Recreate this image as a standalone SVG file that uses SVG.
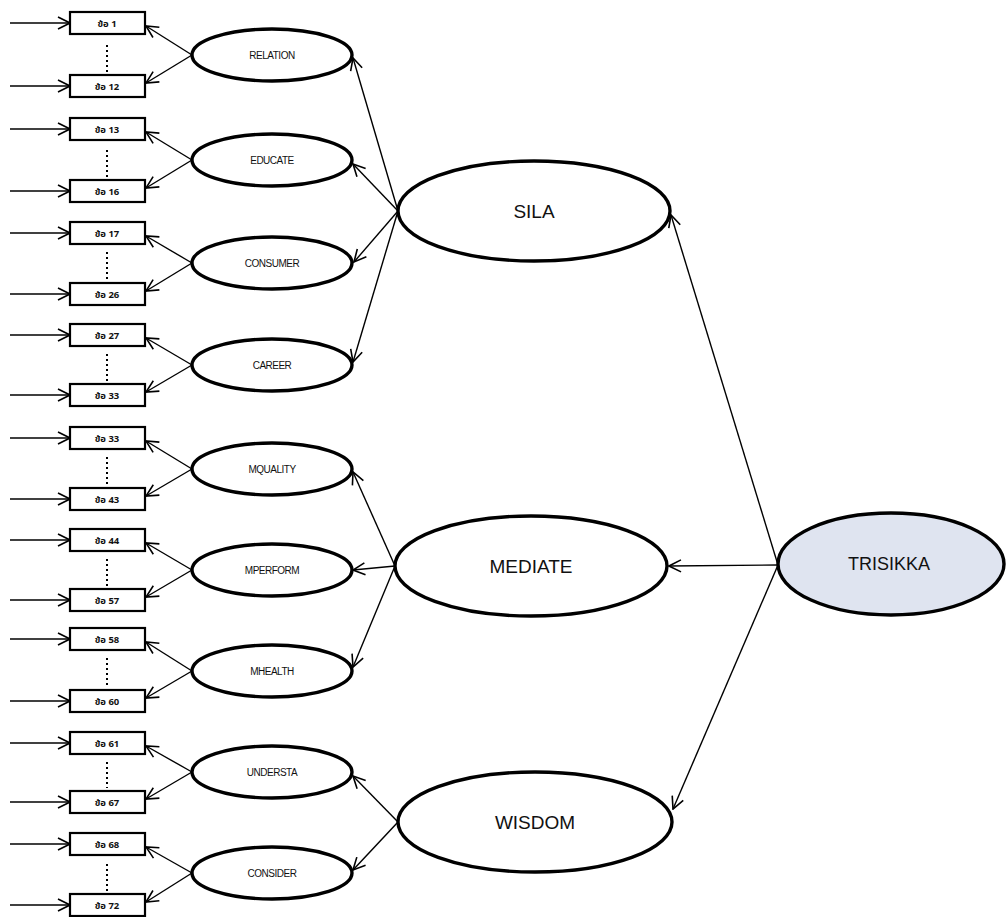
<svg xmlns="http://www.w3.org/2000/svg" width="1006" height="917" viewBox="0 0 1006 917">
  <style>
    .item rect { fill: #fff; stroke: #000; stroke-width: 2.2; }
    .item text { font-family: "Noto Sans Thai", "Liberation Sans", "DejaVu Sans", sans-serif; font-size: 9.5px; font-weight: bold; text-anchor: middle; fill: #111; }
    .dots { stroke: #000; stroke-width: 2; stroke-dasharray: 2 3; fill: none; }
    .sub ellipse { fill: #fff; stroke: #000; stroke-width: 3.4; }
    .sub text { font-family: "Liberation Sans", Arial, sans-serif; font-size: 10px; text-anchor: middle; fill: #111; letter-spacing: -0.5px; }
    .main ellipse { fill: #fff; stroke: #000; stroke-width: 3.4; }
    .main text { font-family: "Liberation Sans", Arial, sans-serif; font-size: 19px; text-anchor: middle; fill: #111; }
    #TRISIKKA ellipse { fill: #dfe4f0; }
    #TRISIKKA text { font-size: 18px; }
    .edges line { stroke: #000; stroke-width: 1.4; fill: none; marker-end: url(#arrow); }
  </style>
  <defs>
    <marker id="arrow" viewBox="0 0 14 14" refX="13" refY="7" markerWidth="14" markerHeight="14" markerUnits="userSpaceOnUse" orient="auto">
      <path d="M1,1 L13,7 L1,13" fill="none" stroke="#000" stroke-width="1.6"/>
    </marker>
  </defs>

  <rect width="1006" height="917" fill="#fff"/>

  <!-- connectors -->
  <g id="connectors" class="edges">
    <!-- error arrows into each item -->
    <line x1="10" y1="23" x2="70" y2="23"/>
    <line x1="10" y1="86" x2="70" y2="86"/>
    <line x1="10" y1="129" x2="70" y2="129"/>
    <line x1="10" y1="191" x2="70" y2="191"/>
    <line x1="10" y1="233" x2="70" y2="233"/>
    <line x1="10" y1="294" x2="70" y2="294"/>
    <line x1="10" y1="335" x2="70" y2="335"/>
    <line x1="10" y1="395" x2="70" y2="395"/>
    <line x1="10" y1="438" x2="70" y2="438"/>
    <line x1="10" y1="499" x2="70" y2="499"/>
    <line x1="10" y1="540" x2="70" y2="540"/>
    <line x1="10" y1="600" x2="70" y2="600"/>
    <line x1="10" y1="639" x2="70" y2="639"/>
    <line x1="10" y1="701" x2="70" y2="701"/>
    <line x1="10" y1="743" x2="70" y2="743"/>
    <line x1="10" y1="802" x2="70" y2="802"/>
    <line x1="10" y1="844" x2="70" y2="844"/>
    <line x1="10" y1="905" x2="70" y2="905"/>

    <!-- sub-factor loadings onto items -->
    <line x1="192" y1="55" x2="146" y2="26"/>
    <line x1="192" y1="55" x2="146" y2="83"/>
    <line x1="192" y1="160" x2="146" y2="132"/>
    <line x1="192" y1="160" x2="146" y2="188"/>
    <line x1="192" y1="263" x2="146" y2="236"/>
    <line x1="192" y1="263" x2="146" y2="291"/>
    <line x1="192" y1="365" x2="146" y2="338"/>
    <line x1="192" y1="365" x2="146" y2="392"/>
    <line x1="192" y1="469" x2="146" y2="441"/>
    <line x1="192" y1="469" x2="146" y2="496"/>
    <line x1="192" y1="570" x2="146" y2="543"/>
    <line x1="192" y1="570" x2="146" y2="597"/>
    <line x1="192" y1="671" x2="146" y2="642"/>
    <line x1="192" y1="671" x2="146" y2="698"/>
    <line x1="192" y1="772" x2="146" y2="746"/>
    <line x1="192" y1="772" x2="146" y2="799"/>
    <line x1="192" y1="873" x2="146" y2="847"/>
    <line x1="192" y1="873" x2="146" y2="902"/>

    <!-- factor loadings onto sub-factors -->
    <line x1="398" y1="211" x2="353" y2="58"/>
    <line x1="398" y1="211" x2="353" y2="164"/>
    <line x1="398" y1="211" x2="354" y2="262"/>
    <line x1="398" y1="211" x2="353" y2="362"/>
    <line x1="395" y1="566" x2="353" y2="472"/>
    <line x1="395" y1="566" x2="353" y2="570"/>
    <line x1="395" y1="566" x2="353" y2="667"/>
    <line x1="398" y1="822" x2="353" y2="776"/>
    <line x1="398" y1="822" x2="353" y2="870"/>

    <!-- second-order loadings -->
    <line x1="778" y1="565" x2="671" y2="215"/>
    <line x1="778" y1="565" x2="669" y2="566"/>
    <line x1="778" y1="565" x2="673" y2="809"/>
  </g>

  <!-- observed items -->
  <g id="item1" class="item"><rect x="70" y="12" width="75" height="22"/><text x="107" y="27">ข้อ 1</text></g>
  <g id="item12" class="item"><rect x="70" y="75" width="75" height="22"/><text x="107" y="90">ข้อ 12</text></g>
  <g id="item13" class="item"><rect x="70" y="118" width="75" height="22"/><text x="107" y="133">ข้อ 13</text></g>
  <g id="item16" class="item"><rect x="70" y="180" width="75" height="22"/><text x="107" y="195">ข้อ 16</text></g>
  <g id="item17" class="item"><rect x="70" y="222" width="75" height="22"/><text x="107" y="237">ข้อ 17</text></g>
  <g id="item26" class="item"><rect x="70" y="283" width="75" height="22"/><text x="107" y="298">ข้อ 26</text></g>
  <g id="item27" class="item"><rect x="70" y="324" width="75" height="22"/><text x="107" y="339">ข้อ 27</text></g>
  <g id="item32" class="item"><rect x="70" y="384" width="75" height="22"/><text x="107" y="399">ข้อ 33</text></g>
  <g id="item33" class="item"><rect x="70" y="427" width="75" height="22"/><text x="107" y="442">ข้อ 33</text></g>
  <g id="item43" class="item"><rect x="70" y="488" width="75" height="22"/><text x="107" y="503">ข้อ 43</text></g>
  <g id="item44" class="item"><rect x="70" y="529" width="75" height="22"/><text x="107" y="544">ข้อ 44</text></g>
  <g id="item57" class="item"><rect x="70" y="589" width="75" height="22"/><text x="107" y="604">ข้อ 57</text></g>
  <g id="item58" class="item"><rect x="70" y="628" width="75" height="22"/><text x="107" y="643">ข้อ 58</text></g>
  <g id="item60" class="item"><rect x="70" y="690" width="75" height="22"/><text x="107" y="705">ข้อ 60</text></g>
  <g id="item61" class="item"><rect x="70" y="732" width="75" height="22"/><text x="107" y="747">ข้อ 61</text></g>
  <g id="item67" class="item"><rect x="70" y="791" width="75" height="22"/><text x="107" y="806">ข้อ 67</text></g>
  <g id="item68" class="item"><rect x="70" y="833" width="75" height="22"/><text x="107" y="848">ข้อ 68</text></g>
  <g id="item72" class="item"><rect x="70" y="894" width="75" height="22"/><text x="107" y="909">ข้อ 72</text></g>

  <!-- ellipsis dots between first and last item of each block -->
  <g id="ellipsis-dots" class="dots">
    <line x1="107" y1="45" x2="107" y2="72"/>
    <line x1="107" y1="150" x2="107" y2="177"/>
    <line x1="107" y1="252" x2="107" y2="280"/>
    <line x1="107" y1="354" x2="107" y2="381"/>
    <line x1="107" y1="457" x2="107" y2="485"/>
    <line x1="107" y1="559" x2="107" y2="586"/>
    <line x1="107" y1="658" x2="107" y2="687"/>
    <line x1="107" y1="762" x2="107" y2="788"/>
    <line x1="107" y1="864" x2="107" y2="891"/>
  </g>

  <!-- sub-factors -->
  <g id="RELATION" class="sub"><ellipse cx="272" cy="55" rx="80" ry="26"/><text x="272" y="59">RELATION</text></g>
  <g id="EDUCATE" class="sub"><ellipse cx="272" cy="160" rx="80" ry="26"/><text x="272" y="164">EDUCATE</text></g>
  <g id="CONSUMER" class="sub"><ellipse cx="272" cy="263" rx="80" ry="26"/><text x="272" y="267">CONSUMER</text></g>
  <g id="CAREER" class="sub"><ellipse cx="272" cy="365" rx="80" ry="26"/><text x="272" y="369">CAREER</text></g>
  <g id="MQUALITY" class="sub"><ellipse cx="272" cy="469" rx="80" ry="26"/><text x="272" y="473">MQUALITY</text></g>
  <g id="MPERFORM" class="sub"><ellipse cx="272" cy="570" rx="80" ry="26"/><text x="272" y="574">MPERFORM</text></g>
  <g id="MHEALTH" class="sub"><ellipse cx="272" cy="671" rx="80" ry="26"/><text x="272" y="675">MHEALTH</text></g>
  <g id="UNDERSTA" class="sub"><ellipse cx="272" cy="772" rx="80" ry="26"/><text x="272" y="776">UNDERSTA</text></g>
  <g id="CONSIDER" class="sub"><ellipse cx="272" cy="873" rx="80" ry="26"/><text x="272" y="877">CONSIDER</text></g>

  <!-- first-order factors -->
  <g id="SILA" class="main"><ellipse cx="534" cy="211" rx="136" ry="50"/><text x="534" y="218">SILA</text></g>
  <g id="MEDIATE" class="main"><ellipse cx="531" cy="566" rx="136" ry="50"/><text x="531" y="573">MEDIATE</text></g>
  <g id="WISDOM" class="main"><ellipse cx="535" cy="822" rx="137" ry="50"/><text x="535" y="829">WISDOM</text></g>

  <!-- second-order factor -->
  <g id="TRISIKKA" class="main"><ellipse cx="891" cy="564" rx="113" ry="51"/><text x="889" y="570">TRISIKKA</text></g>
</svg>
